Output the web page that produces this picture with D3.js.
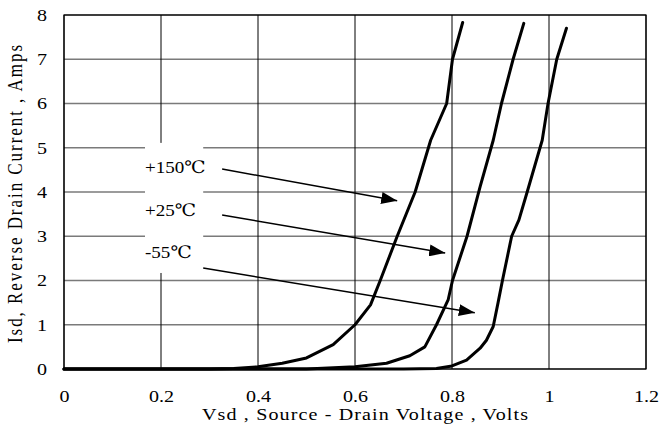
<!DOCTYPE html>
<html><head><meta charset="utf-8">
<script src="https://cdn.jsdelivr.net/npm/d3@7"></script>
<style>
body{margin:0;background:#fff;}
svg{display:block;}
svg text{font-family:"Liberation Serif","DejaVu Serif",serif;fill:#000;}
</style></head>
<body>
<script>
// ---- data ----
const xTicks = [0, 0.2, 0.4, 0.6, 0.8, 1, 1.2];
const yTicks = [0, 1, 2, 3, 4, 5, 6, 7, 8];
const seriesNames = ["+150℃", "+25℃", "-55℃"];
const v150 = [0, 0.3, 0.35, 0.4, 0.45, 0.5, 0.555, 0.6, 0.632, 0.652, 0.687, 0.724, 0.756, 0.789, 0.801, 0.822];
const i150 = [0, 0, 0.01, 0.05, 0.13, 0.25, 0.55, 1.0, 1.45, 2, 3, 4, 5.17, 6, 7, 7.83];
const v25 = [0, 0.5, 0.6, 0.665, 0.713, 0.744, 0.768, 0.792, 0.801, 0.831, 0.858, 0.885, 0.902, 0.926, 0.948];
const i25 = [0, 0, 0.05, 0.13, 0.3, 0.5, 1.0, 1.56, 2, 3, 4.12, 5.17, 6, 7, 7.81];
const vm55 = [0, 0.7, 0.768, 0.8, 0.83, 0.858, 0.871, 0.885, 0.895, 0.904, 0.923, 0.938, 0.955, 0.986, 0.998, 1.016, 1.036];
const im55 = [0, 0, 0.01, 0.07, 0.2, 0.47, 0.65, 0.96, 1.5, 2, 3, 3.37, 4, 5.17, 6, 7, 7.7];
// annotation: label anchor and arrow start/end in data units
const labelV = [0.167, 0.167, 0.167];
const labelI = [4.43, 3.46, 2.51];
const arrowFromV = [0.326, 0.326, 0.287];
const arrowFromI = [4.52, 3.48, 2.28];
const arrowToV = [0.687, 0.786, 0.847];
const arrowToI = [3.80, 2.62, 1.27];
const xTitle = "Vsd , Source - Drain Voltage , Volts";
const yTitle = "Isd, Reverse Drain Current , Amps";

// ---- drawing ----
const W = 662, H = 429;
const SX = 1.18; // horizontal glyph stretch seen in the reference
const svg = d3.select("body").append("svg").attr("width", W).attr("height", H);
const x = d3.scaleLinear().domain([0, 1.2]).range([64, 646]);
const y = d3.scaleLinear().domain([0, 8]).range([369, 15]);

// gridlines
svg.append("g").selectAll("line").data(yTicks).join("line")
  .attr("x1", x(0)).attr("x2", x(1.2)).attr("y1", d => y(d)).attr("y2", d => y(d))
  .attr("stroke", "#7a7a7a").attr("stroke-width", 1.4);
svg.append("g").selectAll("line").data(xTicks).join("line")
  .attr("x1", d => x(d)).attr("x2", d => x(d)).attr("y1", y(0)).attr("y2", y(8))
  .attr("stroke", "#000").attr("stroke-width", 1);
svg.append("rect").attr("x", x(0)).attr("y", y(8)).attr("width", x(1.2) - x(0)).attr("height", y(0) - y(8))
  .attr("fill", "none").attr("stroke", "#000").attr("stroke-width", 1.2);

// axes
const xAxis = svg.append("g").attr("transform", `translate(0,${y(0)})`)
  .call(d3.axisBottom(x).tickValues(xTicks).tickSize(0).tickPadding(20.5).tickFormat(d3.format("")));
xAxis.select(".domain").remove();
xAxis.selectAll("text").attr("font-size", 17).attr("transform", `scale(${SX},1)`);
const yAxis = svg.append("g").attr("transform", `translate(${x(0)},0)`)
  .call(d3.axisLeft(y).tickValues(yTicks).tickSize(0).tickPadding(17));
yAxis.select(".domain").remove();
yAxis.selectAll("text").attr("font-size", 17).attr("x", -17 / SX).attr("transform", `scale(${SX},1)`);

// curves
const line = d3.line().x(d => x(d[0])).y(d => y(d[1])).curve(d3.curveLinear);
const series = [d3.zip(v150, i150), d3.zip(v25, i25), d3.zip(vm55, im55)];
svg.append("g").selectAll("path").data(series).join("path")
  .attr("d", line).attr("fill", "none").attr("stroke", "#000").attr("stroke-width", 3)
  .attr("stroke-linejoin", "round").attr("stroke-linecap", "round");

// label background box
svg.append("rect").attr("x", x(0.167)).attr("y", y(5.11)).attr("width", x(0.287) - x(0.167)).attr("height", y(2.17) - y(5.11))
  .attr("fill", "#fff");

// labels
svg.append("g").selectAll("text").data(seriesNames).join("text")
  .attr("transform", (d, i) => `translate(${x(labelV[i])},${y(labelI[i])}) scale(${SX * 0.95},1)`)
  .attr("font-size", 17).text(d => d);

// arrows
svg.append("defs").append("marker").attr("id", "ah").attr("viewBox", "0 0 16 12")
  .attr("refX", 16).attr("refY", 6).attr("markerWidth", 16).attr("markerHeight", 12)
  .attr("markerUnits", "userSpaceOnUse").attr("orient", "auto")
  .append("path").attr("d", "M0,0 L16,6 L0,12 Z").attr("fill", "#000");
svg.append("g").selectAll("line").data(seriesNames).join("line")
  .attr("x1", (d, i) => x(arrowFromV[i])).attr("y1", (d, i) => y(arrowFromI[i]))
  .attr("x2", (d, i) => x(arrowToV[i])).attr("y2", (d, i) => y(arrowToI[i]))
  .attr("stroke", "#000").attr("stroke-width", 1.5).attr("marker-end", "url(#ah)");

// titles
svg.append("text").attr("transform", `translate(365,420) scale(${SX},1)`).attr("text-anchor", "middle").attr("font-size", 17)
  .attr("textLength", 326 / SX).attr("lengthAdjust", "spacing").text(xTitle);
svg.append("text").attr("transform", `translate(22,194) scale(${SX},1) rotate(-90)`).attr("text-anchor", "middle").attr("font-size", 17)
  .attr("textLength", 298).attr("lengthAdjust", "spacing").text(yTitle);
</script>
</body></html>
